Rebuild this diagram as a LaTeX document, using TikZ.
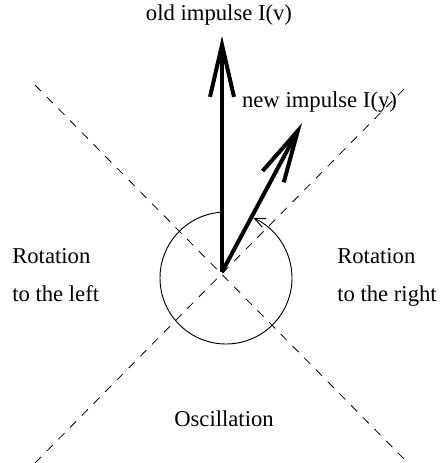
\documentclass[tikz,border=0pt]{standalone}
\usepackage{fontspec}
\setmainfont{Liberation Serif}
\usetikzlibrary{arrows.meta}
\begin{document}
\begin{tikzpicture}[x=0.75pt,y=-0.75pt,
  lbl/.style={inner sep=0pt,font=\fontsize{17}{20}\selectfont},
  sector/.style={draw=black,line width=0.6pt,dash pattern=on 6.5pt off 6pt},
  impulse/.style={draw=black,line width=3pt,-{Straight Barb[length=39pt,width=18pt]}},
  turn/.style={draw=black,line width=0.7pt,-{Straight Barb[length=8pt,width=7pt]}}]
\useasboundingbox (0,0) rectangle (440,463);
% sector lines
\coordinate (nw) at (35,85);
\coordinate (se) at (408,463);
\coordinate (sw) at (35,463);
\coordinate (ne) at (408,85);
\draw[sector] (nw) -- (se);
\draw[sector] (sw) -- (ne);
% origin and tips
\coordinate (o) at (222,272);
\coordinate (oldtip) at (222,36);
\coordinate (newtip) at (302,123);
\coordinate (c) at (226,278);
% rotation arc
\draw[turn] (c) ++(266.5:66) arc[start angle=266.5, end angle=-65.5, radius=66];
% impulses
\draw[impulse] (o) -- (oldtip);
\draw[impulse] (o) -- (newtip);
% labels
\node[lbl,anchor=base] (old) at (219,21) {old impulse I(v)};
\node[lbl,anchor=base] (new) at (319.5,108) {new impulse I(y)};
\node[lbl,anchor=base west] (rl1) at (12,263) {Rotation};
\node[lbl,anchor=base west] (rl2) at (12,301) {to the left};
\node[lbl,anchor=base west] (rr1) at (337,263) {Rotation};
\node[lbl,anchor=base west] (rr2) at (337,301) {to the right};
\node[lbl,anchor=base] (osc) at (224,426) {Oscillation};
\end{tikzpicture}
\end{document}
